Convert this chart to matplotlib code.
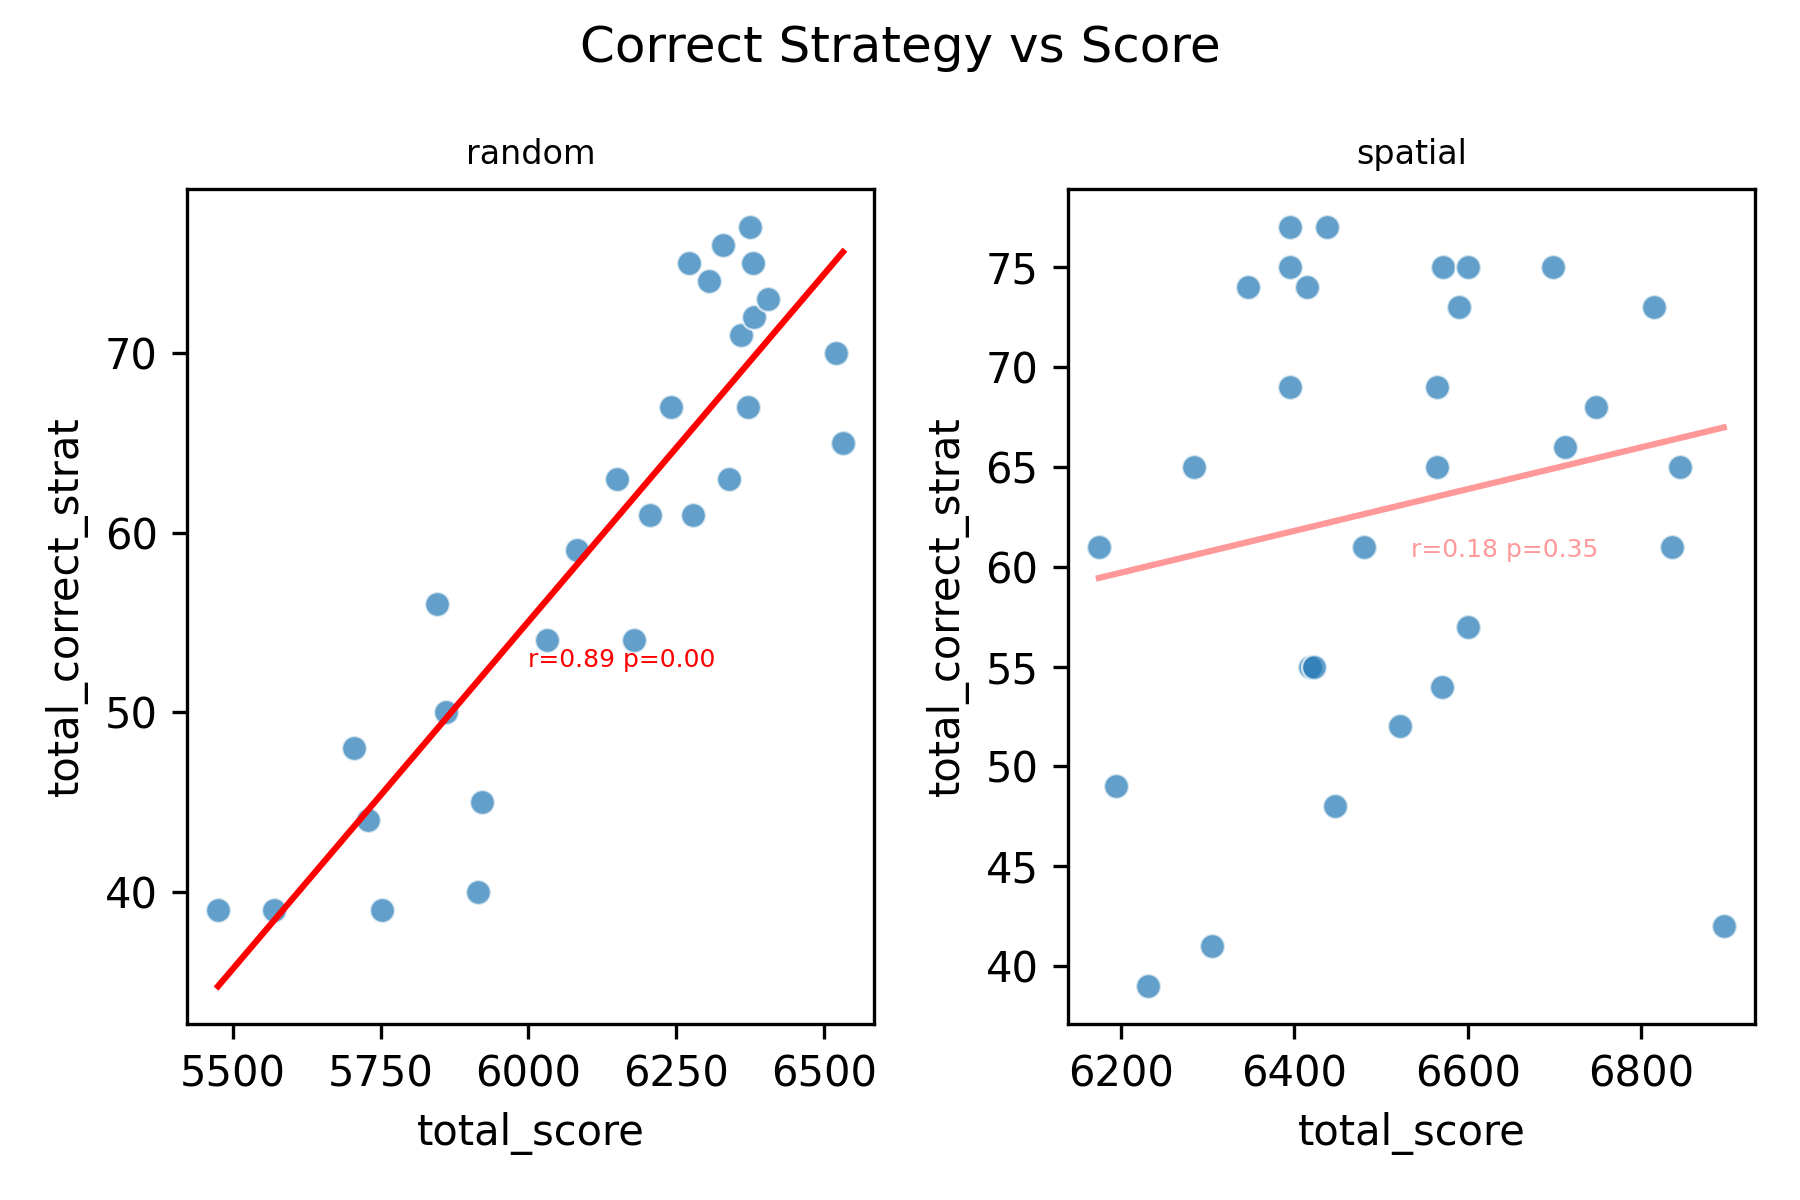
import numpy as np
import matplotlib
matplotlib.use("Agg")
from matplotlib import pyplot as plt

# random condition
rand_score = [5475, 5570, 5705, 5728, 5752, 5845, 5860, 5915, 5922, 6032,
              6082, 6150, 6178, 6205, 6242, 6272, 6278, 6305, 6330, 6340,
              6360, 6372, 6375, 6380, 6382, 6405, 6520, 6532]
rand_strat = [39, 39, 48, 44, 39, 56, 50, 40, 45, 54,
              59, 63, 54, 61, 67, 75, 61, 74, 76, 63,
              71, 67, 77, 75, 72, 73, 70, 65]

# spatial condition
spat_score = [6175, 6195, 6232, 6285, 6305, 6347, 6395, 6395, 6395, 6415,
              6418, 6423, 6438, 6447, 6480, 6522, 6565, 6565, 6570, 6572,
              6590, 6600, 6600, 6698, 6712, 6748, 6815, 6835, 6845, 6895]
spat_strat = [61, 49, 39, 65, 41, 74, 77, 75, 69, 74,
              55, 55, 77, 48, 61, 52, 69, 65, 54, 75,
              73, 75, 57, 75, 66, 68, 73, 61, 65, 42]

panels = [
    ("random", rand_score, rand_strat, "r=0.89 p=0.00", (6000, 52.5), 1.0),
    ("spatial", spat_score, spat_strat, "r=0.18 p=0.35", (6535, 60.5), 0.4),
]

fig, axes = plt.subplots(1, 2, figsize=(6, 4), dpi=300)
fig.suptitle("Correct Strategy vs Score", fontsize=12)

for ax, (name, x, y, label, pos, alpha) in zip(axes, panels):
    x = np.array(x, dtype=float)
    y = np.array(y, dtype=float)
    ax.scatter(x, y, s=36, color="C0", alpha=0.7, edgecolors="white", linewidths=0.6, zorder=2)
    k, b = np.polyfit(x, y, 1)
    xs = np.array([x.min(), x.max()])
    ax.plot(xs, k * xs + b, color="red", alpha=alpha, linewidth=1.5, zorder=3)
    ax.text(pos[0], pos[1], label, color="red", alpha=alpha, fontsize=6)
    ax.set_title(name, fontsize=8)
    ax.set_xlabel("total_score")
    ax.set_ylabel("total_correct_strat")

axes[0].set_xticks([5500, 5750, 6000, 6250, 6500])
axes[0].set_yticks([40, 50, 60, 70])
axes[1].set_xticks([6200, 6400, 6600, 6800])
axes[1].set_yticks([40, 45, 50, 55, 60, 65, 70, 75])

plt.tight_layout()
plt.savefig("out.png")
